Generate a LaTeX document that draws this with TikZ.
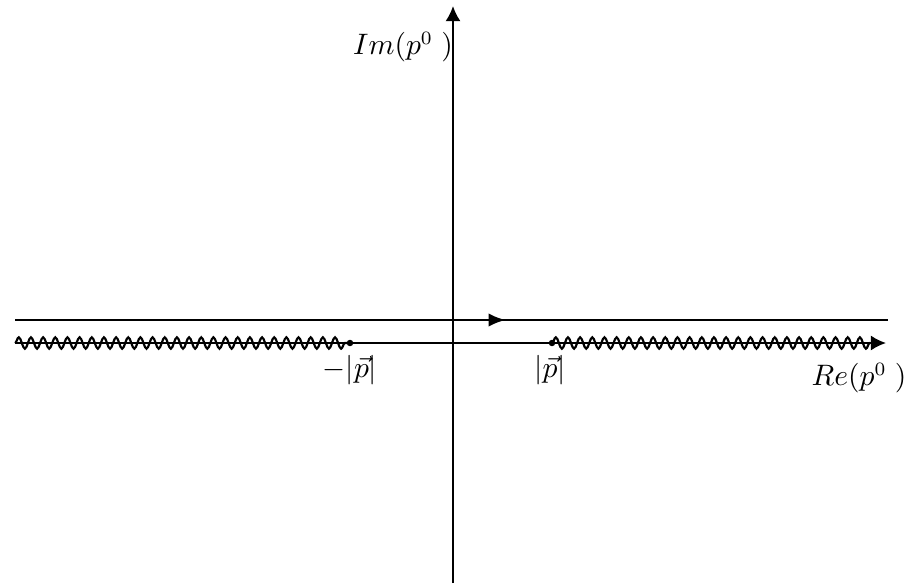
\documentclass[tikz,border=0pt]{standalone}
\usetikzlibrary{arrows.meta,decorations.pathmorphing,decorations.markings}
\tikzset{
  axis/.style={line width=0.8pt,-{Latex[length=5.6pt,width=5.6pt]}},
  contour/.style={line width=1pt,postaction={decorate},
    decoration={markings,mark=at position 0.562 with {\arrow{Latex[length=6.3pt,width=5pt]}}}},
  cut/.style={line width=0.8pt,decorate,decoration={snake,segment length=4.5pt,amplitude=2.1pt}},
  branch/.style={circle,fill=black,inner sep=0pt,minimum size=2.4pt},
  lab/.style={inner sep=0pt,font=\fontsize{10.5}{12}\selectfont}
}
\begin{document}
\begin{tikzpicture}[x=0.37pt,y=-0.37pt]
\useasboundingbox (0,0) rectangle (905,583);
\coordinate (yb) at (453,583);
\coordinate (yt) at (453,6);
\coordinate (xl) at (15,343);
\coordinate (xr) at (886,343);
\coordinate (cl) at (15,320);
\coordinate (cr) at (888,320);
\coordinate (wl) at (15,343);
\coordinate (wr) at (870,343);
\node[branch] (bm) at (350,343) {};
\node[branch] (bp) at (552,343) {};
\draw[axis] (yb) -- (yt);
\draw[axis] (xl) -- (xr);
\draw[contour] (cl) -- (cr);
\draw[cut] (wl) -- (bm.center);
\draw[cut] (bp.center) -- (wr);
\node[lab] (lm) at (350,370) {$-|\vec p|$};
\node[lab] (lp) at (550,370) {$|\vec p|$};
\node[lab] (re) at (859,378) {$Re(p^0\;)$};
\node[lab] (im) at (403,47) {$Im(p^0\;)$};
\end{tikzpicture}
\end{document}
